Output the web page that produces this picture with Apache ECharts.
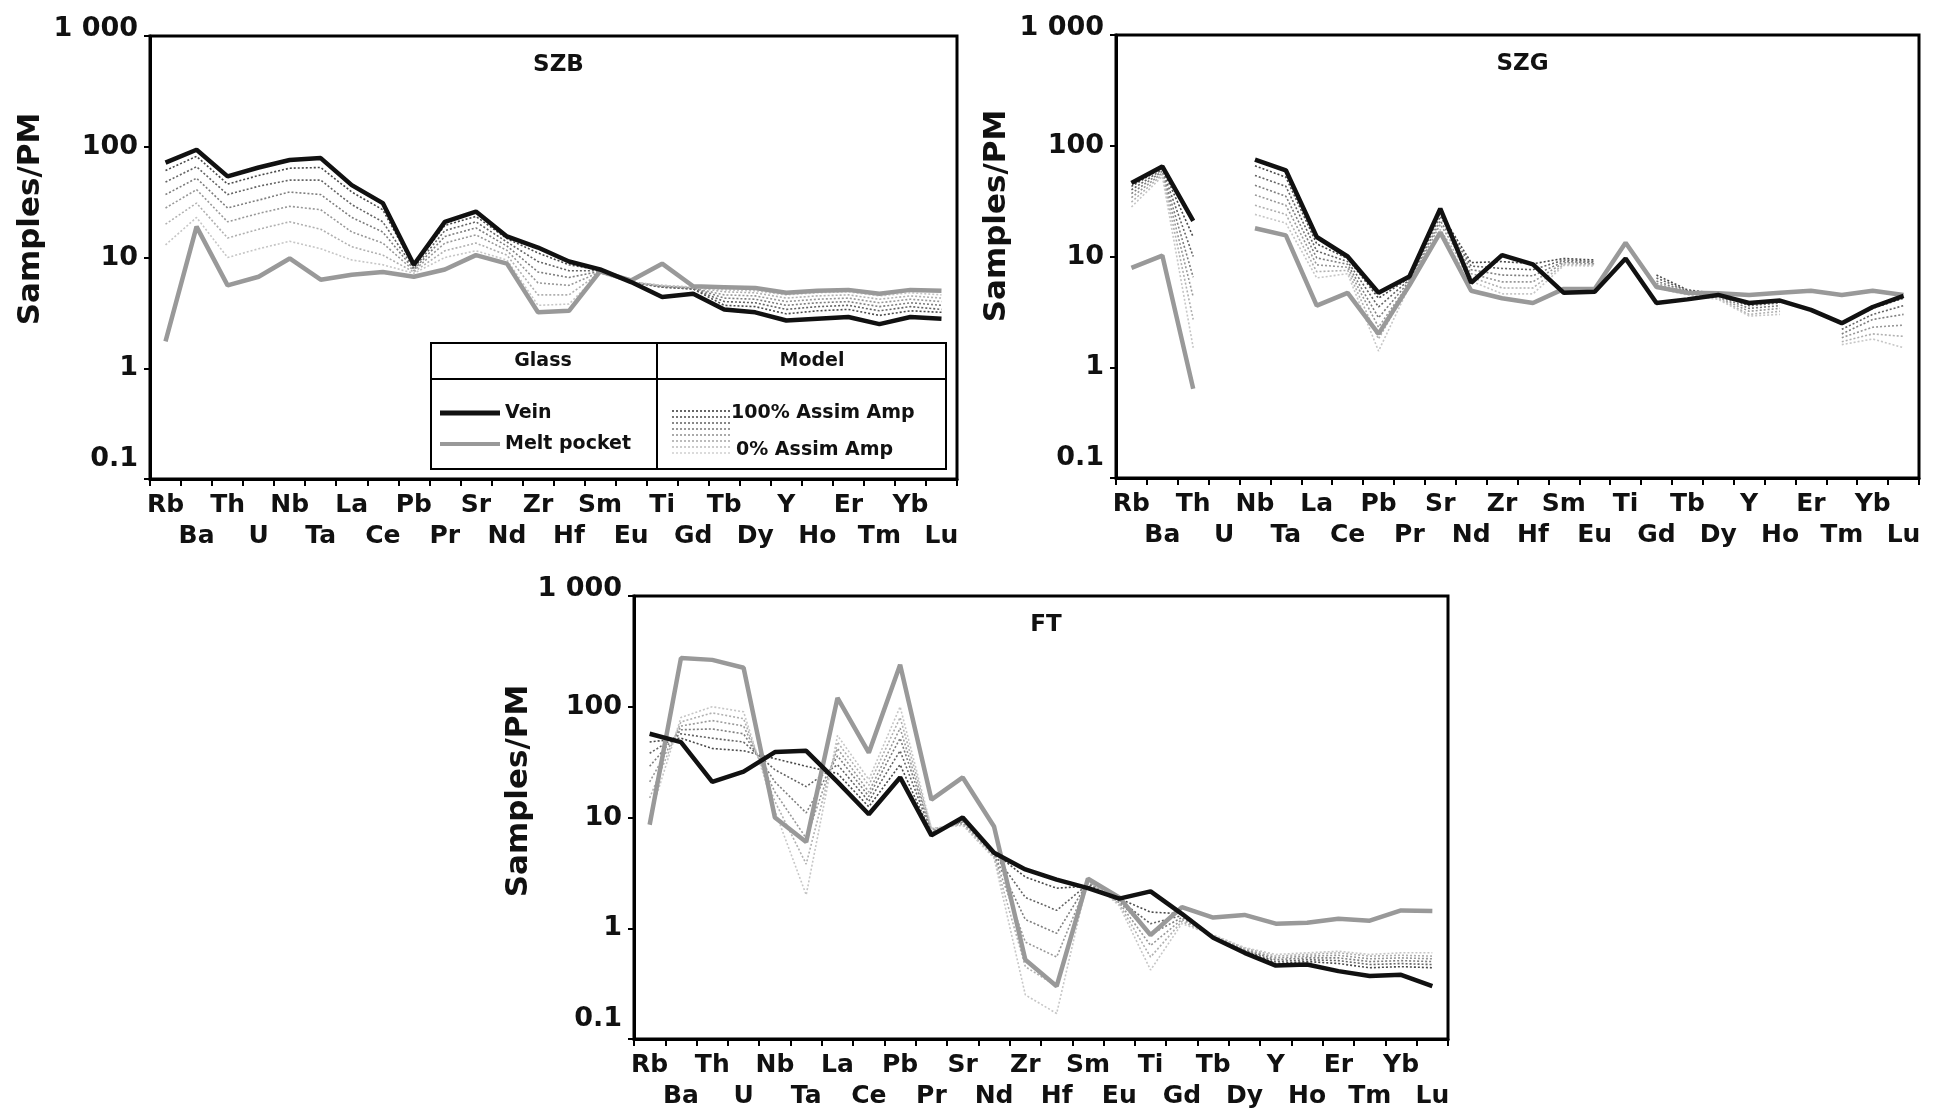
<!DOCTYPE html>
<html>
<head>
<meta charset="utf-8">
<script src="https://cdn.jsdelivr.net/npm/echarts@6/dist/echarts.min.js"></script>
<style>
  html, body { margin: 0; padding: 0; background: #fff; }
  #chart { width: 1939px; height: 1114px; }
</style>
</head>
<body>
<div id="chart"></div>
<script>
const elements = ['Rb','Ba','Th','U','Nb','Ta','La','Ce','Pb','Pr','Sr','Nd','Zr','Hf','Sm','Eu','Ti','Gd','Tb','Dy','Y','Ho','Er','Tm','Yb','Lu'];

// SZB
const szbVein = [72, 94, 54, 65, 76, 79, 45, 31, 8.6, 21, 26, 15.5, 12.3, 9.2, 7.8, 6.0, 4.4, 4.7, 3.4, 3.2, 2.7, 2.8, 2.9, 2.5, 2.9, 2.8];
const szbMelt = [1.75, 19, 5.6, 6.7, 9.8, 6.3, 7.0, 7.4, 6.7, 7.8, 10.5, 8.8, 3.2, 3.3, 7.5, 6.2, 8.8, 5.5, 5.4, 5.3, 4.8, 5.0, 5.1, 4.7, 5.1, 5.0];
const szbModel1 = [61, 82, 46, 55, 64, 65, 39, 27, 8.3, 19.5, 23.5, 14.8, 11, 8.6, 7.7, 6.0, 5.4, 5.2, 3.7, 3.6, 3.1, 3.3, 3.4, 3.0, 3.3, 3.2];
const szbModel2 = [48, 66, 37, 44, 50, 50, 30, 21, 8.0, 17.5, 21, 13.8, 9.2, 7.6, 7.6, 6.0, 5.4, 5.2, 4.0, 3.9, 3.4, 3.6, 3.7, 3.3, 3.6, 3.4];
const szbModel3 = [37, 52, 28, 33, 39, 37, 23, 17, 7.8, 15.5, 18.5, 12.7, 7.4, 6.6, 7.5, 6.0, 5.5, 5.3, 4.3, 4.2, 3.7, 3.9, 4.0, 3.6, 3.9, 3.7];
const szbModel4 = [28, 41, 21, 25, 29, 27, 17, 13.5, 7.6, 13.5, 16, 11.6, 5.9, 5.6, 7.4, 6.0, 5.5, 5.3, 4.6, 4.5, 4.0, 4.2, 4.3, 3.9, 4.2, 4.0];
const szbModel5 = [20, 31, 15, 18, 21, 18, 12.5, 10.5, 7.4, 11.5, 13.5, 10.5, 4.6, 4.6, 7.3, 6.0, 5.6, 5.4, 4.9, 4.8, 4.3, 4.5, 4.6, 4.2, 4.5, 4.3];
const szbModel6 = [13, 23, 10, 12, 14, 12, 9.5, 8.6, 7.2, 10, 11.5, 9.5, 3.7, 3.8, 7.2, 6.0, 5.6, 5.4, 5.1, 5.0, 4.6, 4.8, 4.9, 4.5, 4.8, 4.6];

// SZG
const szgVein = [46, 65, 21, null, 75, 60, 15, 10, 4.7, 6.6, 27, 5.8, 10.3, 8.5, 4.7, 4.8, 9.6, 3.8, 4.1, 4.5, 3.8, 4.0, 3.3, 2.5, 3.5, 4.4];
const szgMelt = [7.9, 10.2, 0.64, null, 18, 15.5, 3.6, 4.7, 2.0, 5.5, 16.5, 4.9, 4.2, 3.8, 5.1, 5.1, 13.3, 5.3, 4.7, 4.65, 4.5, 4.7, 4.9, 4.5, 4.9, 4.5];
const szgModel1 = [43, 63, 15, null, 66, 52, 13, 9.6, 4.2, 6.4, 25, 8.8, 9.0, 8.6, 9.6, 9.3, null, 6.8, 5.0, 4.6, 3.8, 4.0, null, 2.5, 3.4, 4.2];
const szgModel2 = [40, 61, 10, null, 54, 43, 11.2, 9.0, 3.5, 6.2, 23, 8.2, 7.8, 7.6, 9.3, 9.0, null, 6.4, 4.9, 4.5, 3.6, 3.8, null, 2.2, 3.0, 3.6];
const szgModel3 = [37, 59, 6.5, null, 44, 35, 9.7, 8.5, 2.8, 6.0, 21, 7.6, 6.8, 6.7, 9.0, 8.8, null, 6.0, 4.8, 4.4, 3.4, 3.6, null, 2.0, 2.7, 3.0];
const szgModel4 = [34, 57, 4.3, null, 36, 29, 8.4, 8.0, 2.3, 5.8, 19.5, 7.0, 5.9, 5.9, 8.8, 8.6, null, 5.7, 4.7, 4.3, 3.2, 3.4, null, 1.85, 2.3, 2.4];
const szgModel5 = [31, 55, 2.7, null, 29, 24, 7.3, 7.5, 1.8, 5.6, 17.5, 6.5, 5.2, 5.2, 8.5, 8.4, null, 5.4, 4.6, 4.2, 3.0, 3.2, null, 1.7, 2.0, 1.9];
const szgModel6 = [28, 53, 1.5, null, 24, 20, 6.4, 7.0, 1.4, 5.4, 16, 6.0, 4.6, 4.6, 8.3, 8.2, null, 5.2, 4.5, 4.1, 2.9, 3.0, null, 1.6, 1.8, 1.5];

// FT
const ftVein = [57, 48, 21, 26, 39, 40, 21, 10.7, 23, 6.9, 10, 4.8, 3.4, 2.75, 2.3, 1.85, 2.15, 1.35, 0.82, 0.6, 0.46, 0.47, 0.41, 0.37, 0.38, 0.3];
const ftMelt = [8.6, 275, 265, 225, 10, 6.0, 120, 38.5, 240, 14.5, 23, 8.3, 0.52, 0.3, 2.8, 1.9, 0.87, 1.55, 1.25, 1.32, 1.1, 1.12, 1.22, 1.17, 1.45, 1.43];
const ftModel1 = [48, 52, 42, 40, 34, 29, 25, 12.5, 30, 7.1, 9.6, 4.8, 2.9, 2.3, 2.4, 1.85, 1.4, 1.35, 0.82, 0.62, 0.48, 0.5, 0.48, 0.44, 0.45, 0.44];
const ftModel2 = [38, 57, 52, 48, 27, 19, 30, 14, 40, 7.3, 9.3, 4.7, 1.9, 1.45, 2.5, 1.8, 1.1, 1.3, 0.83, 0.63, 0.5, 0.52, 0.51, 0.47, 0.48, 0.47];
const ftModel3 = [29, 62, 63, 57, 21, 11, 36, 15.5, 52, 7.5, 9.1, 4.6, 1.2, 0.9, 2.6, 1.75, 0.88, 1.25, 0.84, 0.64, 0.52, 0.54, 0.54, 0.5, 0.51, 0.5];
const ftModel4 = [21, 67, 75, 67, 17, 6.5, 42, 17, 64, 7.7, 8.9, 4.5, 0.75, 0.55, 2.65, 1.7, 0.7, 1.2, 0.85, 0.65, 0.54, 0.56, 0.57, 0.53, 0.54, 0.53];
const ftModel5 = [15, 73, 88, 78, 14, 3.8, 48, 19.5, 80, 7.9, 8.7, 4.4, 0.45, 0.3, 2.7, 1.65, 0.55, 1.15, 0.86, 0.66, 0.56, 0.58, 0.6, 0.56, 0.57, 0.56];
const ftModel6 = [10, 80, 100, 90, 11.5, 2.0, 55, 22, 100, 8.0, 8.5, 4.3, 0.25, 0.17, 2.8, 1.6, 0.42, 1.1, 0.87, 0.67, 0.58, 0.6, 0.62, 0.58, 0.6, 0.6];

const modelColors = ['#4a4a4a', '#646464', '#7e7e7e', '#989898', '#b0b0b0', '#c6c6c6'];
const font = 'DejaVu Sans';

const panels = [
  { name: 'SZB', grid: { left: 150, top: 36, width: 807, height: 443 }, yName: [31, 219],
    vein: szbVein, melt: szbMelt, models: [szbModel1, szbModel2, szbModel3, szbModel4, szbModel5, szbModel6] },
  { name: 'SZG', grid: { left: 1116, top: 35, width: 803, height: 443 }, yName: [997, 216],
    vein: szgVein, melt: szgMelt, models: [szgModel1, szgModel2, szgModel3, szgModel4, szgModel5, szgModel6] },
  { name: 'FT', grid: { left: 634, top: 596, width: 814, height: 443 }, yName: [519, 791],
    vein: ftVein, melt: ftMelt, models: [ftModel1, ftModel2, ftModel3, ftModel4, ftModel5, ftModel6] }
];

const chart = echarts.init(document.getElementById('chart'));

const series = [];
panels.forEach((p, i) => {
  p.models.forEach((m, k) => {
    series.push({
      type: 'line', xAxisIndex: i, yAxisIndex: i, data: m, symbol: 'none', silent: true, z: 1,
      lineStyle: { color: modelColors[k], width: 1.6, type: [2, 2] }
    });
  });
  series.push({
    name: 'Melt pocket', type: 'line', xAxisIndex: i, yAxisIndex: i, data: p.melt, symbol: 'none', silent: true, z: 2,
    lineStyle: { color: '#999', width: 4.5 }
  });
  series.push({
    name: 'Vein', type: 'line', xAxisIndex: i, yAxisIndex: i, data: p.vein, symbol: 'none', silent: true, z: 3,
    lineStyle: { color: '#111', width: 4.5 }
  });
});

// legend table of SZB panel
const legendGraphics = [
  { type: 'rect', shape: { x: 431, y: 343, width: 515, height: 126 }, style: { fill: '#fff', stroke: '#000', lineWidth: 2 }, z: 10 },
  { type: 'line', shape: { x1: 657, y1: 343, x2: 657, y2: 469 }, style: { stroke: '#000', lineWidth: 2 }, z: 11 },
  { type: 'line', shape: { x1: 431, y1: 379, x2: 946, y2: 379 }, style: { stroke: '#000', lineWidth: 2 }, z: 11 },
  { type: 'text', x: 543, y: 361, z: 11, style: { text: 'Glass', font: 'bold 19px ' + font, fill: '#111', align: 'center', verticalAlign: 'middle' } },
  { type: 'text', x: 812, y: 361, z: 11, style: { text: 'Model', font: 'bold 19px ' + font, fill: '#111', align: 'center', verticalAlign: 'middle' } },
  { type: 'line', shape: { x1: 440, y1: 413, x2: 500, y2: 413 }, style: { stroke: '#111', lineWidth: 5 }, z: 11 },
  { type: 'text', x: 505, y: 413, z: 11, style: { text: 'Vein', font: 'bold 19px ' + font, fill: '#111', verticalAlign: 'middle' } },
  { type: 'line', shape: { x1: 440, y1: 444, x2: 500, y2: 444 }, style: { stroke: '#999', lineWidth: 4 }, z: 11 },
  { type: 'text', x: 505, y: 444, z: 11, style: { text: 'Melt pocket', font: 'bold 19px ' + font, fill: '#111', verticalAlign: 'middle' } },
  { type: 'text', x: 731, y: 413, z: 11, style: { text: '100% Assim Amp', font: 'bold 19px ' + font, fill: '#111', verticalAlign: 'middle' } },
  { type: 'text', x: 736, y: 450, z: 11, style: { text: '0% Assim Amp', font: 'bold 19px ' + font, fill: '#111', verticalAlign: 'middle' } }
];
const sampleShades = ['#333', '#4a4a4a', '#606060', '#777', '#8e8e8e', '#a5a5a5', '#bcbcbc', '#d0d0d0'];
sampleShades.forEach((c, k) => {
  const y = 411 + k * 6;
  legendGraphics.push({ type: 'line', shape: { x1: 672, y1: y, x2: 731, y2: y }, style: { stroke: c, lineWidth: 1.5, lineDash: [2, 2] }, z: 11 });
});

const yNames = panels.map(p => ({
  type: 'text', x: p.yName[0], y: p.yName[1], rotation: Math.PI / 2, z: 5,
  style: { text: 'Samples/PM', font: 'bold 31px ' + font, fill: '#111', align: 'center', verticalAlign: 'middle' }
}));

const tickFont = { fontFamily: font, fontWeight: 'bold', fontSize: 27, color: '#111' };

chart.setOption({
  animation: false,
  backgroundColor: '#fff',
  title: panels.map(p => ({
    text: p.name, left: p.grid.left + p.grid.width / 2, top: p.grid.top + 13, textAlign: 'center',
    textStyle: { fontFamily: font, fontWeight: 'bold', fontSize: 23, color: '#111' }
  })),
  grid: panels.map(p => Object.assign({ show: true, borderColor: '#000', borderWidth: 3 }, p.grid)),
  xAxis: panels.map((p, i) => ({
    type: 'category', gridIndex: i, data: elements, boundaryGap: true,
    axisLine: { lineStyle: { color: '#000', width: 3 } },
    axisTick: { show: true, interval: 0, length: 7, lineStyle: { color: '#000', width: 2 } },
    axisLabel: {
      interval: 0, margin: 11, color: '#111', fontFamily: font, fontWeight: 'bold', fontSize: 25, lineHeight: 31,
      formatter: (v, idx) => (idx % 2 ? '\n' + v : v)
    }
  })),
  yAxis: panels.map((p, i) => ({
    type: 'log', gridIndex: i, logBase: 10, min: 0.1, max: 1000, splitNumber: 4,
    splitLine: { show: false },
    axisLine: { show: true, lineStyle: { color: '#000', width: 3 } },
    axisTick: { show: true, length: 6, lineStyle: { color: '#000', width: 2 } },
    axisLabel: Object.assign({
      margin: 12,
      rich: {
        lo: Object.assign({ padding: [0, 0, 40, 0] }, tickFont),
        hi: Object.assign({ padding: [0, 0, 14, 0] }, tickFont)
      },
      formatter: v => {
        const n = Number(Number(v).toPrecision(3));
        if (n >= 1000) return '{hi|1 000}';
        if (n < 1) return '{lo|' + n + '}';
        return String(n);
      }
    }, tickFont)
  })),
  graphic: yNames.concat(legendGraphics),
  series: series
});
</script>
</body>
</html>
